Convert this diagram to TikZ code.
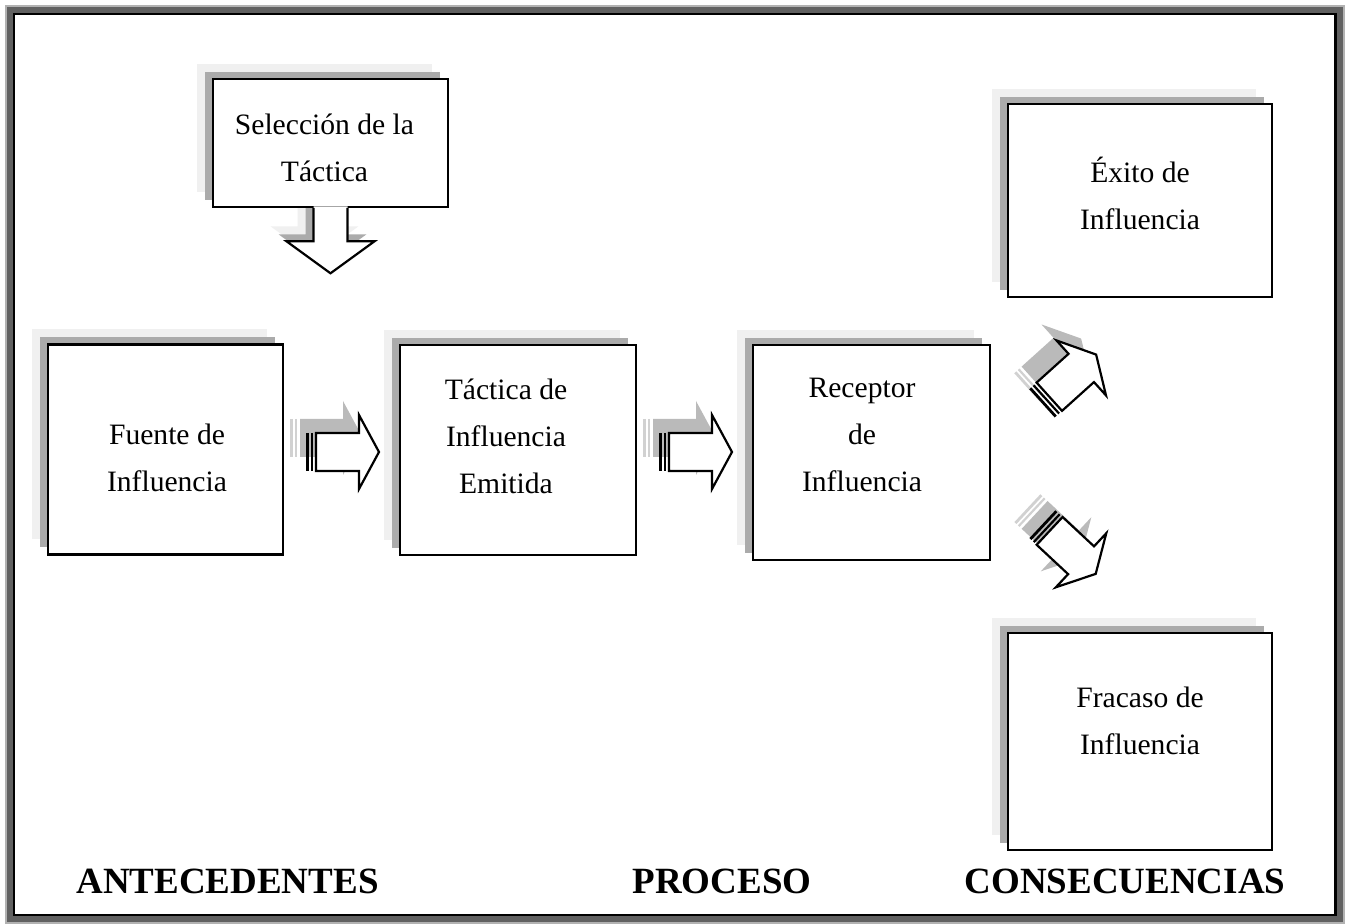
\documentclass[tikz,border=0pt]{standalone}
\usepackage{fontspec}
\setmainfont{Liberation Serif}
\usetikzlibrary{calc,shadows,backgrounds}

\tikzset{
  box/.style={draw, line width=1.3pt, fill=white, inner sep=0pt,
    general shadow={draw=none, fill=black!6, shadow xshift=-8pt, shadow yshift=7.5pt},
    general shadow={draw=none, fill=black!33, shadow xshift=-4pt, shadow yshift=3.5pt}},
  boxtext/.style={align=center, font=\fontsize{14.8}{23.5}\selectfont},
  stage/.style={font=\fontsize{18.5}{22}\selectfont\bfseries},
  arrowline/.style={line width=1.1pt, line join=miter},
  stripe arrow/.pic={
    \draw[arrowline, fill=white] (-26.5,-19) -- (16.5,-19) -- (16.5,-37) -- (36.5,0)
      -- (16.5,37) -- (16.5,19) -- (-26.5,19) -- cycle;
    \draw[line width=1.4pt] (-35,-19) -- (-35,19);
    \draw[line width=1.1pt] (-30.5,-19) -- (-30.5,19);
  },
  arrow shadow/.pic={
    \fill[black!27] (-26.5,-19) -- (16.5,-19) -- (16.5,-37) -- (36.5,0)
      -- (16.5,37) -- (16.5,19) -- (-26.5,19) -- cycle;
    \draw[black!18, line width=1.4pt] (-35,-19) -- (-35,19);
    \draw[black!18, line width=1.1pt] (-30.5,-19) -- (-30.5,19);
  }
}

\begin{document}
\begin{tikzpicture}[x=0.5pt, y=-0.5pt]
\useasboundingbox (0,0) rectangle (1345,924);

% marco
\begin{scope}[on background layer]
  \fill[black!30] (5,5) rectangle (1345,924);
  \fill[black!62] (7,7) rectangle (1343,922);
  \draw[line width=1.25pt, fill=white] (14,14) rectangle (1335.5,915);
\end{scope}

% cajas
\node[box, minimum width=117.5pt, minimum height=64pt] (seleccion) at (330.5,143) {};
\node[box, minimum width=117.5pt, minimum height=105pt] (fuente) at (165.5,449.5) {};
\node[box, minimum width=118pt, minimum height=105pt] (tactica) at (518,450) {};
\node[box, minimum width=118.5pt, minimum height=107.5pt] (receptor) at (871.5,452.5) {};
\node[box, minimum width=132pt, minimum height=96.5pt] (exito) at (1140,200.5) {};
\node[box, minimum width=132pt, minimum height=108.5pt] (fracaso) at (1140,741.5) {};

\node[boxtext] (selecciontxt) at ($(seleccion)+(-6,4.5)$) {Selección de la\\Táctica};
\node[boxtext] (fuentetxt) at ($(fuente)+(1.5,8.5)$) {Fuente de\\Influencia};
\node[boxtext] (tacticatxt) at ($(tactica)+(-12,-14)$) {Táctica de\\Influencia\\Emitida};
\node[boxtext] (receptortxt) at ($(receptor)+(-9.5,-17.5)$) {Receptor\\de\\Influencia};
\node[boxtext] (exitotxt) at ($(exito)+(0,-7.5)$) {Éxito de\\Influencia};
\node[boxtext] (fracasotxt) at ($(fracaso)+(0,-20.5)$) {Fracaso de\\Influencia};

% flecha hacia abajo
\begin{scope}[on background layer, shift={(seleccion.south)}]
  \fill[black!6, shift={(-16,-15)}] (-17,-10) -- (-17,33) -- (-44,33) -- (0,65)
    -- (44,33) -- (17,33) -- (17,-10) -- cycle;
  \fill[black!33, shift={(-8,-7)}] (-17,-10) -- (-17,33) -- (-44,33) -- (0,65)
    -- (44,33) -- (17,33) -- (17,-10) -- cycle;
\end{scope}
\begin{scope}[shift={(seleccion.south)}]
  \fill[white] (-17,-2) -- (-17,33) -- (-44,33) -- (0,65) -- (44,33) -- (17,33) -- (17,-2) -- cycle;
  \draw[arrowline] (-17,-0.5) -- (-17,33) -- (-44,33) -- (0,65) -- (44,33) -- (17,33) -- (17,-0.5);
\end{scope}

% flechas rayadas
\coordinate (a1) at (342.5,452);
\coordinate (a2) at (695.5,452);
\coordinate (a3) at (1069,379);
\coordinate (a4) at (1069,549);

\pic at ([shift={(-16,-14)}]a1) {arrow shadow};
\pic at (a1) {stripe arrow};
\pic at ([shift={(-16,-14)}]a2) {arrow shadow};
\pic at (a2) {stripe arrow};
\pic[rotate=42] at ([shift={(-15,-16)}]a3) {arrow shadow};
\pic[rotate=42] at (a3) {stripe arrow};
\pic[rotate=-43] at ([shift={(-15,-16)}]a4) {arrow shadow};
\pic[rotate=-43] at (a4) {stripe arrow};

% etapas
\node[stage] (antecedentes) at (227.5,881) {ANTECEDENTES};
\node[stage] (proceso) at (722,881) {PROCESO};
\node[stage] (consecuencias) at (1125,881) {CONSECUENCIAS};
\end{tikzpicture}
\end{document}
